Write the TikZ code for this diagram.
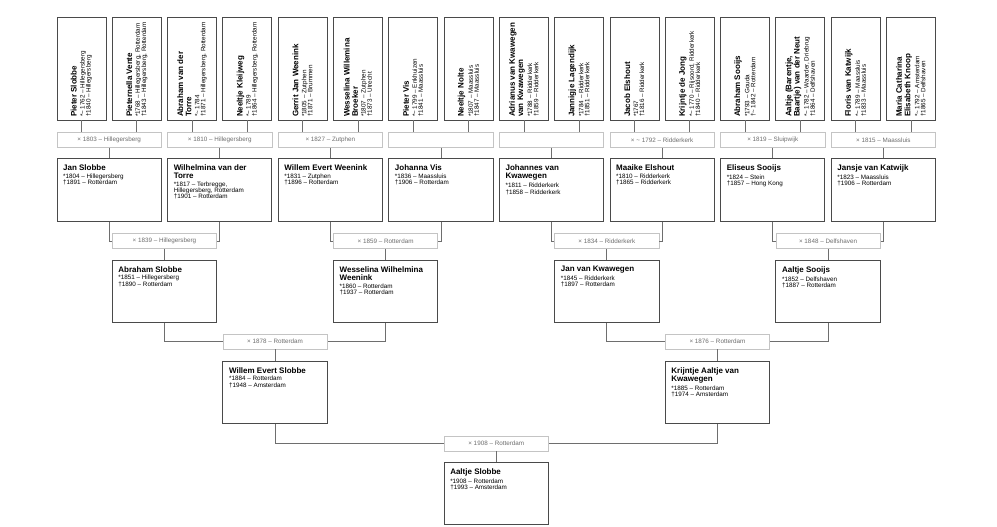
\documentclass[tikz,border=0pt]{standalone}
\usepackage{fontspec}
\setmainfont{Liberation Sans}
\usepackage{graphicx}
\usepackage{xcolor}
\usepackage{tikz}
\definecolor{boxgray}{HTML}{4A4A4A}
\definecolor{margray}{HTML}{C4C4C4}
\definecolor{martext}{HTML}{6E6E6E}
\definecolor{linegray}{HTML}{6E6E6E}
\newcommand{\pn}[1]{{\fontsize{8pt}{8.3pt}\selectfont\bfseries #1\par}\vspace{1.8pt}}
\newcommand{\pd}[1]{{\fontsize{6.3pt}{6.1pt}\selectfont #1\par}}
\newcommand{\pbody}[2]{\parbox[t][50.5pt][t]{92pt}{\raggedright\pn{#1}\pd{#2}}}
\newcommand{\abody}[2]{\rotatebox{90}{\parbox{97pt}{\raggedright\pn{#1}\pd{#2}}}}

\begin{document}
\begin{tikzpicture}[x=1pt,y=-1pt]
\tikzstyle{every node}+=[inner sep=0pt]
\tikzstyle{abox}=[draw=boxgray, line width=0.9pt, fill=white, minimum width=49pt, minimum height=103pt, inner ysep=3pt]
\tikzstyle{pbox}=[draw=boxgray, line width=0.9pt, fill=white, minimum width=104.3pt, minimum height=62.5pt, inner xsep=6pt, inner ysep=6pt]
\tikzstyle{mbox}=[draw=margray, line width=0.8pt, fill=white, minimum width=104.3pt, minimum height=15pt, text=martext, font=\fontsize{6.3pt}{7pt}\selectfont]
\tikzstyle{con}=[draw=linegray, line width=0.8pt]
\useasboundingbox (0,0) rectangle (997,527);
\node [abox] (a1) at (81.5,68.5) {\abody{Pieter Slobbe}{*\textasciitilde{} 1762 – Hillegersberg\\†1840 – Hillegersberg}};
\node [abox] (a2) at (136.8,68.5) {\abody{Pieternella Vente}{*1768 – Hillegersberg, Rotterdam\\†1843 – Hillegersberg, Rotterdam}};
\node [abox] (a3) at (192.1,68.5) {\abody{Abraham van der\\Torre}{*\textasciitilde{} 1784\\†1871 – Hillegersberg, Rotterdam}};
\node [abox] (a4) at (247.4,68.5) {\abody{Neeltje Kleijweg}{*\textasciitilde{} 1789\\†1864 – Hillegersberg, Rotterdam}};
\node [abox] (a5) at (302.7,68.5) {\abody{Gerrit Jan Weenink}{*1805 – Zutphen\\†1871 – Brummen}};
\node [abox] (a6) at (358.0,68.5) {\abody{Wesselina Willemina\\Broeker}{*1807 – Zutphen\\†1873 – Utrecht}};
\node [abox] (a7) at (413.3,68.5) {\abody{Pieter Vis}{*\textasciitilde{} 1799 – Enkhuizen\\†1841 – Maassluis}};
\node [abox] (a8) at (468.6,68.5) {\abody{Neeltje Nolte}{*1807 – Maassluis\\†1847 – Maassluis}};
\node [abox] (a9) at (523.9,68.5) {\abody{Adrianus van Kwawegen\\van Kwawegen}{*1788 – Ridderkerk\\†1859 – Ridderkerk}};
\node [abox] (a10) at (579.2,68.5) {\abody{Jannigje Lagendijk}{*1784 – Ridderkerk\\†1851 – Ridderkerk}};
\node [abox] (a11) at (634.5,68.5) {\abody{Jacob Elshout}{*1767\\†1816 – Ridderkerk}};
\node [abox] (a12) at (689.8,68.5) {\abody{Krijntje de Jong}{*\textasciitilde{} 1770 – Rijsoord, Ridderkerk\\†1840 – Ridderkerk}};
\node [abox] (a13) at (745.1,68.5) {\abody{Abraham Sooijs}{*1793 – Gouda\\†\textasciitilde{} 1842 – Rotterdam}};
\node [abox] (a14) at (800.4,68.5) {\abody{Aaltje (Barentje,\\Baartje) van der Neut}{*\textasciitilde{} 1782 – Waarder, Driebrug\\†1864 – Delfshaven}};
\node [abox] (a15) at (855.7,68.5) {\abody{Floris van Katwijk}{*\textasciitilde{} 1789 – Maassluis\\†1833 – Maassluis}};
\node [abox] (a16) at (911.0,68.5) {\abody{Maria Catharina\\Elisabeth Knoop}{*\textasciitilde{} 1792 – Amsterdam\\†1865 – Delfshaven}};
\node [mbox] (ma1) at (109.15,140) {× 1803 – Hillegersberg};
\node [mbox] (ma2) at (219.75,140) {× 1810 – Hillegersberg};
\node [mbox] (ma3) at (330.35,140) {× 1827 – Zutphen};
\node [mbox] (ma4) at (440.95,140) {};
\node [mbox] (ma5) at (551.55,140) {};
\node [mbox] (ma6) at (662.15,140) {× \textasciitilde{} 1792 – Ridderkerk};
\node [mbox] (ma7) at (772.75,140) {× 1819 – Sluipwijk};
\node [mbox] (ma8) at (883.35,140) {× 1815 – Maassluis};
\node [pbox] (b1) at (109.15,190) {\pbody{Jan Slobbe}{*1804 – Hillegersberg\\†1891 – Rotterdam}};
\node [pbox] (b2) at (219.75,190) {\pbody{Wilhelmina van der\\Torre}{*1817 – Terbregge,\\Hillegersberg, Rotterdam\\†1901 – Rotterdam}};
\node [pbox] (b3) at (330.35,190) {\pbody{Willem Evert Weenink}{*1831 – Zutphen\\†1896 – Rotterdam}};
\node [pbox] (b4) at (440.95,190) {\pbody{Johanna Vis}{*1836 – Maassluis\\†1906 – Rotterdam}};
\node [pbox] (b5) at (551.55,190) {\pbody{Johannes van\\Kwawegen}{*1811 – Ridderkerk\\†1858 – Ridderkerk}};
\node [pbox] (b6) at (662.15,190) {\pbody{Maaike Elshout}{*1810 – Ridderkerk\\†1865 – Ridderkerk}};
\node [pbox] (b7) at (772.75,190) {\pbody{Eliseus Sooijs}{*1824 – Stein\\†1857 – Hong Kong}};
\node [pbox] (b8) at (883.35,190) {\pbody{Jansje van Katwijk}{*1823 – Maassluis\\†1906 – Rotterdam}};
\node [mbox] (mb1) at (164.45,241) {× 1839 – Hillegersberg};
\node [mbox] (mb2) at (385.65,241) {× 1859 – Rotterdam};
\node [mbox] (mb3) at (606.85,241) {× 1834 – Ridderkerk};
\node [mbox] (mb4) at (828.05,241) {× 1848 – Delfshaven};
\node [pbox] (c1) at (164.45,291.5) {\pbody{Abraham Slobbe}{*1851 – Hillegersberg\\†1890 – Rotterdam}};
\node [pbox] (c2) at (385.65,291.5) {\pbody{Wesselina Wilhelmina\\Weenink}{*1860 – Rotterdam\\†1937 – Rotterdam}};
\node [pbox] (c3) at (606.85,291.5) {\pbody{Jan van Kwawegen}{*1845 – Ridderkerk\\†1897 – Rotterdam}};
\node [pbox] (c4) at (828.05,291.5) {\pbody{Aaltje Sooijs}{*1852 – Delfshaven\\†1887 – Rotterdam}};
\node [mbox] (mc1) at (275.05,341.5) {× 1878 – Rotterdam};
\node [mbox] (mc2) at (717.45,341.5) {× 1876 – Rotterdam};
\node [pbox] (d1) at (275.05,392.5) {\pbody{Willem Evert Slobbe}{*1884 – Rotterdam\\†1948 – Amsterdam}};
\node [pbox] (d2) at (717.45,392.5) {\pbody{Krijntje Aaltje van\\Kwawegen}{*1885 – Rotterdam\\†1974 – Amsterdam}};
\node [mbox] (md1) at (496.25,443.5) {× 1908 – Rotterdam};
\node [pbox] (e1) at (496.25,493.5) {\pbody{Aaltje Slobbe}{*1908 – Rotterdam\\†1993 – Amsterdam}};
\draw [con] (a1.south) -- (a1.south |- ma1.north);
\draw [con] (a2.south) -- (a2.south |- ma1.north);
\draw [con] (a3.south) -- (a3.south |- ma2.north);
\draw [con] (a4.south) -- (a4.south |- ma2.north);
\draw [con] (a5.south) -- (a5.south |- ma3.north);
\draw [con] (a6.south) -- (a6.south |- ma3.north);
\draw [con] (a7.south) -- (a7.south |- ma4.north);
\draw [con] (a8.south) -- (a8.south |- ma4.north);
\draw [con] (a9.south) -- (a9.south |- ma5.north);
\draw [con] (a10.south) -- (a10.south |- ma5.north);
\draw [con] (a11.south) -- (a11.south |- ma6.north);
\draw [con] (a12.south) -- (a12.south |- ma6.north);
\draw [con] (a13.south) -- (a13.south |- ma7.north);
\draw [con] (a14.south) -- (a14.south |- ma7.north);
\draw [con] (a15.south) -- (a15.south |- ma8.north);
\draw [con] (a16.south) -- (a16.south |- ma8.north);
\draw [con] (ma1.south) -- (b1.north);
\draw [con] (ma2.south) -- (b2.north);
\draw [con] (ma3.south) -- (b3.north);
\draw [con] (ma4.south) -- (b4.north);
\draw [con] (ma5.south) -- (b5.north);
\draw [con] (ma6.south) -- (b6.north);
\draw [con] (ma7.south) -- (b7.north);
\draw [con] (ma8.south) -- (b8.north);
\draw [con] (b1.south) |- (mb1.west);
\draw [con] (b2.south) |- (mb1.east);
\draw [con] (b3.south) |- (mb2.west);
\draw [con] (b4.south) |- (mb2.east);
\draw [con] (b5.south) |- (mb3.west);
\draw [con] (b6.south) |- (mb3.east);
\draw [con] (b7.south) |- (mb4.west);
\draw [con] (b8.south) |- (mb4.east);
\draw [con] (mb1.south) -- (c1.north);
\draw [con] (mb2.south) -- (c2.north);
\draw [con] (mb3.south) -- (c3.north);
\draw [con] (mb4.south) -- (c4.north);
\draw [con] (c1.south) |- (mc1.west);
\draw [con] (c2.south) |- (mc1.east);
\draw [con] (c3.south) |- (mc2.west);
\draw [con] (c4.south) |- (mc2.east);
\draw [con] (mc1.south) -- (d1.north);
\draw [con] (mc2.south) -- (d2.north);
\draw [con] (d1.south) |- (md1.west);
\draw [con] (d2.south) |- (md1.east);
\draw [con] (md1.south) -- (e1.north);
\end{tikzpicture}
\end{document}
